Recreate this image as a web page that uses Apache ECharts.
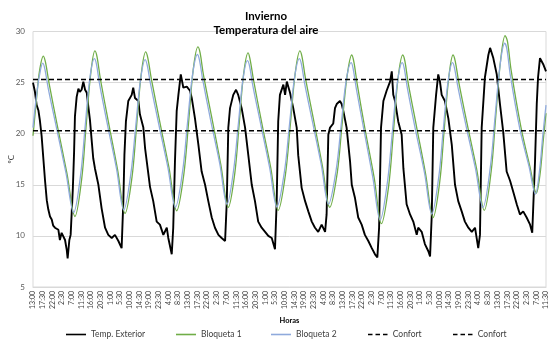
<!DOCTYPE html>
<html>
<head>
<meta charset="utf-8">
<style>
html,body{margin:0;padding:0;background:#fff;}
#chart{width:550px;height:347px;}
</style>
<script src="https://cdn.jsdelivr.net/npm/echarts@6.0.0/dist/echarts.min.js"></script>
</head>
<body>
<div id="chart"></div>
<script>
// Tick labels (every 4.5 hours, starting 13:00)
const tickLabels = [
  "13:00","17:30","22:00","2:30","7:00","11:30","16:00","20:30","1:00","5:30","10:00","14:30","19:00","23:30","4:00","8:30",
  "13:00","17:30","22:00","2:30","7:00","11:30","16:00","20:30","1:00","5:30","10:00","14:30","19:00","23:30","4:00","8:30",
  "13:00","17:30","22:00","2:30","7:00","11:30","16:00","20:30","1:00","5:30","10:00","14:30","19:00","23:30","4:00","8:30",
  "13:00","17:30","22:00","2:30","7:00","11:30"
];
const tickStepHours = 4.5;
const totalHours = 238.5;

const seriesNames = ["Temp. Exterior", "Bloqueta 1", "Bloqueta 2", "Confort", "Confort "];

// [hours since start, ºC]
const tempExterior = [
[0,25.0],[0.9,24.1],[1.7,22.8],[2.5,22.3],[3.2,21.3],[4.0,19.8],[4.8,17.6],[5.6,15.4],[6.4,13.5],[7.1,12.6],[7.9,11.9],[8.7,11.6],[9.4,11.0],[10.2,10.8],[11.0,10.9],[11.8,10.6],[12.5,9.6],[13.3,10.3],[14.1,10.4],[14.9,9.6],[15.7,8.6],[16.1,7.8],[16.9,9.6],[17.5,10.1],[18.5,14.5],[19.1,18.2],[19.5,21.7],[20.3,23.6],[21.1,24.4],[21.8,24.1],[22.6,24.3],[23.4,25.1],[24.2,24.3],[25.0,24.0],[25.7,22.7],[26.5,21.3],[27.3,19.3],[28.0,17.6],[28.8,16.6],[30.4,15.0],[31.9,12.7],[33.5,10.8],[35.0,10.1],[36.6,9.8],[38.1,10.1],[39.7,9.5],[41.2,8.8],[42.0,13.4],[42.5,17.9],[43.2,21.2],[44.3,23.2],[45.9,23.8],[46.6,24.5],[47.4,23.5],[49.0,23.2],[49.7,21.9],[51.3,20.6],[52.1,18.6],[54.4,14.8],[55.9,13.4],[57.5,11.4],[59.0,11.1],[60.6,10.1],[62.2,10.8],[62.9,9.8],[64.5,8.2],[65.2,10.8],[66.0,17.3],[66.8,22.2],[67.6,23.8],[68.7,25.8],[69.9,24.5],[71.5,24.6],[73.0,24.2],[73.8,23.5],[75.3,21.5],[76.9,18.9],[78.4,16.3],[80.0,15.0],[81.5,13.4],[83.1,11.8],[84.6,10.8],[86.2,10.1],[87.7,9.8],[89.3,9.5],[90.1,13.4],[90.8,20.6],[91.6,22.5],[93.1,23.8],[94.4,24.3],[95.4,23.8],[97.0,22.5],[98.6,20.6],[100.1,17.9],[101.7,15.0],[103.2,13.4],[104.7,11.4],[106.3,10.8],[107.9,10.4],[109.4,10.0],[111.0,9.8],[112.5,8.7],[113.3,13.4],[114.0,21.2],[114.8,23.8],[116.4,24.8],[117.2,23.8],[118.0,25.1],[119.5,24.0],[121.0,22.5],[122.6,20.6],[123.3,17.9],[124.9,14.7],[126.5,13.4],[128.0,12.4],[129.6,11.4],[131.1,10.8],[132.6,10.4],[134.2,11.1],[135.8,10.4],[136.5,12.1],[137.3,19.9],[138.1,20.6],[139.6,21.0],[140.4,22.5],[141.2,22.9],[142.7,23.2],[143.5,22.9],[144.3,22.2],[145.8,20.6],[147.4,17.3],[148.2,15.0],[149.7,13.7],[151.2,11.8],[152.8,11.1],[154.3,10.1],[155.9,9.5],[157.5,8.8],[159.0,8.2],[160.1,7.9],[160.9,10.8],[161.8,20.6],[162.9,23.2],[164.4,24.2],[166.0,25.1],[166.8,26.1],[167.5,23.8],[168.3,23.2],[169.8,21.2],[171.4,19.9],[172.2,16.6],[173.7,13.1],[175.3,12.1],[176.8,11.4],[178.4,10.1],[179.1,10.8],[180.7,10.4],[182.2,9.2],[183.8,8.5],[184.6,8.0],[185.4,12.1],[186.1,20.6],[187.4,23.8],[188.4,25.8],[189.2,25.1],[190.0,23.8],[191.5,23.2],[193.1,21.5],[194.7,18.9],[196.2,15.0],[197.7,13.4],[199.3,12.4],[200.8,11.4],[202.4,10.8],[204.0,10.4],[205.5,10.8],[207.0,8.8],[207.8,10.1],[208.6,20.6],[210.1,25.5],[211.7,27.7],[212.5,28.4],[214.0,27.4],[215.6,25.8],[217.1,22.9],[218.6,20.2],[220.2,16.3],[221.8,15.4],[223.3,14.3],[224.9,13.1],[226.4,12.1],[227.9,12.4],[229.5,11.8],[231.1,11.1],[232.1,10.3],[233.4,17.3],[234.2,22.9],[234.8,25.5],[235.7,27.4],[237.2,26.8],[238.5,26.1]
];

const bloqueta1 = [
[0,19.8],[1.5,23.1],[3.0,26.1],[4.8,27.6],
[5.8,27.0],[7.5,24.9],[11.4,20.7],[15.8,16.1],[19.5,11.9],
[22.6,15.5],[24.6,20.5],[26.8,25.8],[28.8,28.1],
[29.8,27.5],[31.3,25.4],[35.1,21.1],[39.3,16.5],[42.8,12.2],
[46.0,15.7],[48.1,20.6],[50.3,25.8],[52.4,28.0],
[53.4,27.4],[55.0,25.4],[58.9,21.2],[63.2,16.7],[66.8,12.45],
[70.1,16.0],[72.3,21.0],[74.5,26.3],[76.7,28.5],
[77.7,27.9],[79.2,25.8],[83.1,21.6],[87.3,17.0],[90.8,12.8],
[93.8,16.1],[95.8,20.8],[97.9,25.8],[100.0,27.9],
[100.9,27.3],[102.5,25.3],[106.3,21.1],[110.5,16.7],[114.0,12.5],
[117.3,15.9],[119.6,20.8],[121.9,25.9],[124.1,28.1],
[125.1,27.5],[126.6,25.5],[130.4,21.4],[134.5,16.9],[138.0,12.8],
[141.4,16.1],[143.6,20.7],[146.0,25.6],[148.2,27.7],
[149.2,27.0],[150.7,24.9],[154.4,20.4],[158.6,15.7],[162.0,11.2],
[165.3,14.8],[167.5,20.0],[169.7,25.4],[171.9,27.7],
[172.9,27.1],[174.4,25.0],[178.3,20.7],[182.5,16.1],[186.0,11.8],
[189.1,15.3],[191.1,20.2],[193.3,25.5],[195.3,27.7],
[196.3,27.1],[197.9,25.1],[201.8,21.0],[206.2,16.6],[209.8,12.5],
[213.0,16.3],[215.1,21.6],[217.4,27.2],[219.5,29.6],
[220.6,29.0],[222.3,26.2],[226.8,20.7],[231.0,16.8],[234.0,14.2],
[235.7,16.0],[237.2,19.3],[238.5,22.0]
];

const bloqueta2 = [
[0,20.6],[1.5,23.5],[3.0,25.7],[4.55,26.9],
[5.55,26.3],[7.1,24.4],[11.0,20.5],[15.3,16.2],[18.9,12.3],
[22.1,15.9],[24.2,20.6],[26.4,25.4],[28.55,27.35],
[29.5,26.8],[31.0,24.8],[34.7,20.8],[38.8,16.6],[42.2,12.55],
[45.5,16.1],[47.7,20.6],[50.0,25.3],[52.15,27.25],
[53.1,26.7],[54.7,24.8],[58.5,20.9],[62.7,16.7],[66.2,12.8],
[69.6,16.4],[71.8,21.0],[74.2,25.8],[76.45,27.75],
[77.4,27.2],[78.9,25.3],[82.6,21.3],[86.8,17.1],[90.2,13.1],
[93.3,16.5],[95.4,20.8],[97.6,25.3],[99.7,27.15],
[100.7,26.6],[102.2,24.7],[105.9,20.9],[110.0,16.7],[113.4,12.85],
[116.9,16.3],[119.2,20.8],[121.6,25.5],[123.85,27.35],
[124.8,26.8],[126.3,24.9],[130.0,21.1],[134.0,17.0],[137.4,13.1],
[140.9,16.4],[143.2,20.7],[145.6,25.2],[147.95,26.95],
[148.9,26.3],[150.4,24.3],[154.0,20.2],[158.0,15.7],[161.4,11.55],
[164.8,15.3],[167.0,20.0],[169.4,25.0],[171.65,26.95],
[172.6,26.4],[174.1,24.4],[177.8,20.4],[182.0,16.2],[185.4,12.15],
[188.6,15.7],[190.7,20.3],[192.9,25.0],[195.05,26.95],
[196.0,26.4],[197.6,24.5],[201.4,20.7],[205.7,16.6],[209.2,12.8],
[212.6,16.7],[214.8,21.6],[217.2,26.8],[219.3,28.85],
[220.3,28.3],[222.0,25.6],[226.4,20.4],[230.6,16.8],[233.6,14.1],
[235.5,16.4],[237.0,19.8],[238.5,22.8]
];

const confortUpper = 25.3;
const confortLower = 20.3;

const FONT = 'Lato, "Open Sans", sans-serif';
const chart = echarts.init(document.getElementById('chart'), null, {renderer: 'canvas'});

const SOLID_ICON = 'path://M0 0H20V1.6H0Z';
const DASH_ICON = 'path://M0 0H4.5V1.6H0Z M7.5 0H12V1.6H7.5Z M15 0H19.5V1.6H15Z';

function legendAt(left, name, icon) {
  return {
    left: left, top: 330, orient: 'horizontal', padding: 0,
    itemWidth: 20, itemHeight: 1.6, itemGap: 0,
    data: [{name: name, icon: icon}], selectedMode: false,
    textStyle: {fontFamily: FONT, fontSize: 8.5, color: '#404040'}
  };
}

chart.setOption({
  animation: false,
  backgroundColor: '#ffffff',
  title: {
    text: 'Invierno\nTemperatura del aire',
    left: 261, top: 4, textAlign: 'center',
    textStyle: {fontFamily: FONT, fontSize: 11.5, fontWeight: 'bold', color: '#000', lineHeight: 14}
  },
  legend: [
    legendAt(66, seriesNames[0], SOLID_ICON),
    legendAt(176, seriesNames[1], SOLID_ICON),
    legendAt(271, seriesNames[2], SOLID_ICON),
    legendAt(368, seriesNames[3], DASH_ICON),
    legendAt(453, seriesNames[4], DASH_ICON)
  ],
  grid: {left: 33, right: 4, top: 31.5, bottom: 60, show: true, borderColor: '#d9d9d9', borderWidth: 1, containLabel: false, outerBoundsMode: 'none'},
  xAxis: {
    type: 'value', min: 0, max: totalHours, interval: tickStepHours,
    name: 'Horas', nameLocation: 'middle', nameGap: 30, nameMoveOverlap: false,
    nameTextStyle: {fontFamily: FONT, fontSize: 7.5, fontWeight: 'bold', color: '#000'},
    axisLine: {show: true, lineStyle: {color: '#d9d9d9'}},
    axisTick: {show: false},
    splitLine: {show: false},
    axisLabel: {
      rotate: 90, margin: 4, fontSize: 7, fontFamily: FONT, color: '#404040',
      showMinLabel: true, showMaxLabel: true,
      formatter: function (v) { return tickLabels[Math.round(v / tickStepHours)] || ''; }
    }
  },
  yAxis: {
    type: 'value', min: 5, max: 30, interval: 5,
    name: 'ºC', nameLocation: 'middle', nameGap: 18, nameRotate: 90, nameMoveOverlap: false,
    nameTextStyle: {fontFamily: FONT, fontSize: 8, color: '#404040'},
    axisLine: {show: false}, axisTick: {show: false},
    splitLine: {show: true, lineStyle: {color: '#d9d9d9', width: 1}},
    axisLabel: {fontSize: 8, fontFamily: FONT, color: '#595959', margin: 8}
  },
  series: [
    {name: seriesNames[0], type: 'line', data: tempExterior, symbol: 'none', showSymbol: false,
     lineStyle: {color: '#000000', width: 1.9}, itemStyle: {color: '#000000'}},
    {name: seriesNames[1], type: 'line', data: bloqueta1, symbol: 'none', showSymbol: false, smooth: 0.35,
     lineStyle: {color: '#70ad47', width: 1.3}, itemStyle: {color: '#70ad47'}},
    {name: seriesNames[2], type: 'line', data: bloqueta2, symbol: 'none', showSymbol: false, smooth: 0.35,
     lineStyle: {color: '#8faadc', width: 1.3}, itemStyle: {color: '#8faadc'}},
    {name: seriesNames[3], type: 'line', data: [[0, confortUpper], [totalHours, confortUpper]], symbol: 'none', showSymbol: false,
     lineStyle: {color: '#000000', width: 1.5, type: [5, 3]}, itemStyle: {color: '#000000'}},
    {name: seriesNames[4], type: 'line', data: [[0, confortLower], [totalHours, confortLower]], symbol: 'none', showSymbol: false,
     lineStyle: {color: '#000000', width: 1.5, type: [5, 3]}, itemStyle: {color: '#000000'}}
  ]
});
</script>
</body>
</html>
